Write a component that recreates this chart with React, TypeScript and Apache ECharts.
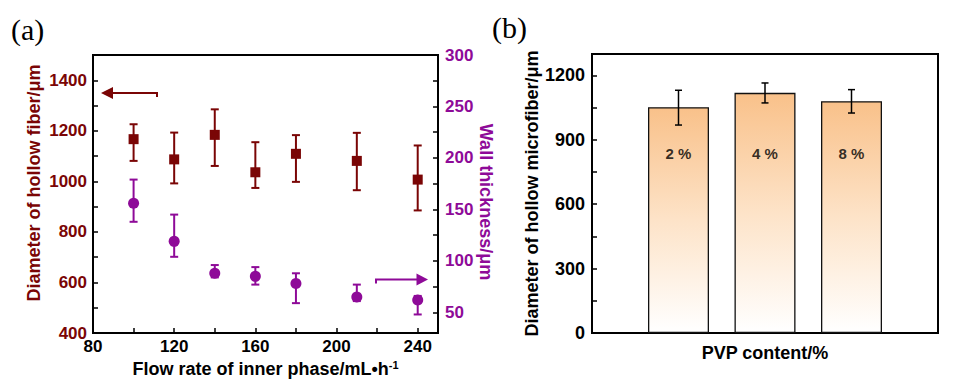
import React, { useEffect, useRef } from "react";
import * as echarts from "echarts";

// Panel (a): flow rate of inner phase
const flowRate = [100, 120, 140, 160, 180, 210, 240];
const diameter = [1167, 1087, 1184, 1036, 1109, 1081, 1007];
const diameterLow = [1081, 992, 1061, 974, 998, 965, 885];
const diameterHigh = [1226, 1193, 1285, 1155, 1183, 1192, 1142];
const wallThickness = [156, 119, 88, 85, 78, 65, 62];
const wallLow = [138, 104, 84, 77, 59, 61, 48];
const wallHigh = [179, 145, 96, 94, 88, 77, 66];
const wallTicks = [50, 100, 150, 200, 250, 300];
const wallMinorTicks = [50, 75, 100, 125, 150, 175, 200, 225, 250, 275, 300];

// Panel (b): PVP content
const pvpLabels = ["2 %", "4 %", "8 %"];
const pvpPos = [1, 2, 3];
const pvpDiameter = [1052, 1119, 1080];
const pvpLow = [969, 1072, 1025];
const pvpHigh = [1131, 1165, 1134];

const DARK_RED = "#7A0505";
const PURPLE = "#8E0A98";
const FONT = "'Liberation Sans', Arial, sans-serif";

function errorRender(color: string, width: number, cap: number) {
  return (params: any, api: any) => {
    const x = api.value(0);
    const lo = api.coord([x, api.value(1)]);
    const hi = api.coord([x, api.value(2)]);
    const style = { stroke: color, lineWidth: width };
    return {
      type: "group",
      children: [
        { type: "line", shape: { x1: lo[0], y1: lo[1], x2: hi[0], y2: hi[1] }, style },
        { type: "line", shape: { x1: hi[0] - cap / 2, y1: hi[1], x2: hi[0] + cap / 2, y2: hi[1] }, style },
        { type: "line", shape: { x1: lo[0] - cap / 2, y1: lo[1], x2: lo[0] + cap / 2, y2: lo[1] }, style },
      ],
    };
  };
}

export default function App() {
  const ref = useRef<HTMLDivElement>(null);
  useEffect(() => {
    document.body.style.margin = "0";
    if (!ref.current) return;
    const chart = echarts.init(ref.current, null, { renderer: "svg" });
    const axisLine = { show: true, lineStyle: { color: "#000", width: 2 } };
    const tick = { show: true, inside: true, length: 5, lineStyle: { color: "#000", width: 1.5 } };
    const option: any = {
      animation: false,
      textStyle: { fontFamily: FONT },
      grid: [
        { left: 93, top: 55, width: 345, height: 278, show: true, borderColor: "#000", borderWidth: 2 },
        { left: 592, top: 54, width: 346, height: 279, show: true, borderColor: "#000", borderWidth: 2 },
      ],
      xAxis: [
        {
          gridIndex: 0,
          type: "value",
          min: 80,
          max: 250,
          interval: 20,
          axisLine,
          axisTick: tick,
          splitLine: { show: false },
          axisLabel: {
            color: "#000",
            fontSize: 17,
            fontWeight: "bold",
            fontFamily: FONT,
            margin: 5,
            formatter: (v: number) => (v % 40 === 0 && v <= 240 ? String(v) : ""),
          },
          name: "Flow rate of inner phase/mL•h{sup|-1}",
          nameLocation: "middle",
          nameGap: 21,
          nameTextStyle: {
            color: "#000",
            fontSize: 18,
            fontWeight: "bold",
            fontFamily: FONT,
            rich: { sup: { fontSize: 11, fontWeight: "bold", fontFamily: FONT, verticalAlign: "top", color: "#000" } },
          },
        },
        {
          gridIndex: 1,
          type: "value",
          min: 0,
          max: 4,
          axisLine,
          axisTick: { show: false },
          axisLabel: { show: false },
          splitLine: { show: false },
          name: "PVP content/%",
          nameLocation: "middle",
          nameGap: 11,
          nameTextStyle: { color: "#000", fontSize: 18, fontWeight: "bold", fontFamily: FONT },
        },
      ],
      yAxis: [
        {
          gridIndex: 0,
          type: "value",
          min: 400,
          max: 1500,
          interval: 100,
          position: "left",
          axisLine,
          axisTick: tick,
          splitLine: { show: false },
          axisLabel: {
            color: DARK_RED,
            fontSize: 17,
            fontWeight: "bold",
            fontFamily: FONT,
            margin: 6,
            formatter: (v: number) => (v % 200 === 0 && v <= 1400 ? String(v) : ""),
          },
          name: "Diameter of hollow fiber/μm",
          nameLocation: "middle",
          nameRotate: 90,
          nameGap: 50,
          nameTextStyle: { color: DARK_RED, fontSize: 18, fontWeight: "bold", fontFamily: FONT, padding: [0, 0, 0, 22] },
        },
        {
          gridIndex: 0,
          type: "value",
          min: 30,
          max: 300,
          position: "right",
          axisLine,
          axisTick: { ...tick, customValues: wallMinorTicks },
          splitLine: { show: false },
          axisLabel: {
            color: PURPLE,
            fontSize: 17,
            fontWeight: "bold",
            fontFamily: FONT,
            margin: 7,
            customValues: wallTicks,
          },
          name: "Wall thickness/μm",
          nameLocation: "middle",
          nameRotate: -90,
          nameGap: 38,
          nameTextStyle: { color: PURPLE, fontSize: 18, fontWeight: "bold", fontFamily: FONT, padding: [0, 0, 0, 16] },
        },
        {
          gridIndex: 1,
          type: "value",
          min: 0,
          max: 1300,
          interval: 150,
          axisLine,
          axisTick: tick,
          splitLine: { show: false },
          axisLabel: {
            color: "#000",
            fontSize: 18,
            fontWeight: "bold",
            fontFamily: FONT,
            margin: 7,
            formatter: (v: number) => (v % 300 === 0 && v <= 1200 ? String(v) : ""),
          },
          name: "Diameter of hollow microfiber/μm",
          nameLocation: "middle",
          nameRotate: 90,
          nameGap: 46,
          nameTextStyle: { color: "#000", fontSize: 18, fontWeight: "bold", fontFamily: FONT },
        },
      ],
      series: [
        {
          type: "custom",
          xAxisIndex: 0,
          yAxisIndex: 0,
          data: flowRate.map((x, i) => [x, diameterLow[i], diameterHigh[i]]),
          encode: { x: 0, y: [1, 2] },
          renderItem: errorRender(DARK_RED, 2, 8),
          z: 1,
        },
        {
          type: "scatter",
          xAxisIndex: 0,
          yAxisIndex: 0,
          symbol: "rect",
          symbolSize: 10,
          itemStyle: { color: DARK_RED, opacity: 1 },
          data: flowRate.map((x, i) => [x, diameter[i]]),
          z: 2,
        },
        {
          type: "custom",
          xAxisIndex: 0,
          yAxisIndex: 1,
          data: flowRate.map((x, i) => [x, wallLow[i], wallHigh[i]]),
          encode: { x: 0, y: [1, 2] },
          renderItem: errorRender(PURPLE, 2, 8),
          z: 1,
        },
        {
          type: "scatter",
          xAxisIndex: 0,
          yAxisIndex: 1,
          symbol: "circle",
          symbolSize: 11,
          itemStyle: { color: PURPLE, opacity: 1 },
          data: flowRate.map((x, i) => [x, wallThickness[i]]),
          z: 2,
        },
        {
          type: "bar",
          xAxisIndex: 1,
          yAxisIndex: 2,
          barWidth: 61,
          data: pvpPos.map((x, i) => [x, pvpDiameter[i]]),
          itemStyle: {
            color: new echarts.graphic.LinearGradient(0, 0, 0, 1, [
              { offset: 0, color: "#F9C18A" },
              { offset: 0.5, color: "#FDE3C8" },
              { offset: 1, color: "#FFFFFF" },
            ]),
            borderColor: "#111",
            borderWidth: 1.3,
          },
          z: 1,
        },
        {
          type: "custom",
          xAxisIndex: 1,
          yAxisIndex: 2,
          data: pvpPos.map((x, i) => [x, pvpLow[i], pvpHigh[i]]),
          encode: { x: 0, y: [1, 2] },
          renderItem: errorRender("#000", 1.5, 7),
          z: 3,
        },
        {
          type: "scatter",
          xAxisIndex: 1,
          yAxisIndex: 2,
          symbolSize: 0,
          data: pvpPos.map((x) => [x, 838]),
          label: {
            show: true,
            position: "inside",
            formatter: (p: any) => pvpLabels[p.dataIndex],
            color: "#000",
            fontSize: 15,
            fontWeight: "bold",
            fontFamily: FONT,
          },
          z: 4,
        },
      ],
      graphic: [
        { type: "text", left: 11, top: 14, style: { text: "(a)", fontSize: 30, fontFamily: "'Liberation Serif', 'Times New Roman', serif", fill: "#000" } },
        { type: "text", left: 492, top: 12, style: { text: "(b)", fontSize: 30, fontFamily: "'Liberation Serif', 'Times New Roman', serif", fill: "#000" } },
        { type: "polyline", shape: { points: [[157, 97], [157, 93], [110, 93]] }, style: { stroke: DARK_RED, lineWidth: 2, fill: null } },
        { type: "polygon", shape: { points: [[101, 93], [113, 87], [113, 99]] }, style: { fill: DARK_RED } },
        { type: "polyline", shape: { points: [[376, 283.5], [376, 279.5], [419, 279.5]] }, style: { stroke: PURPLE, lineWidth: 2, fill: null } },
        { type: "polygon", shape: { points: [[428, 279.5], [416.5, 273.5], [416.5, 285.5]] }, style: { fill: PURPLE } },
      ],
    };
    chart.setOption(option);
    return () => chart.dispose();
  }, []);
  return <div ref={ref} style={{ width: 955, height: 385 }} />;
}
